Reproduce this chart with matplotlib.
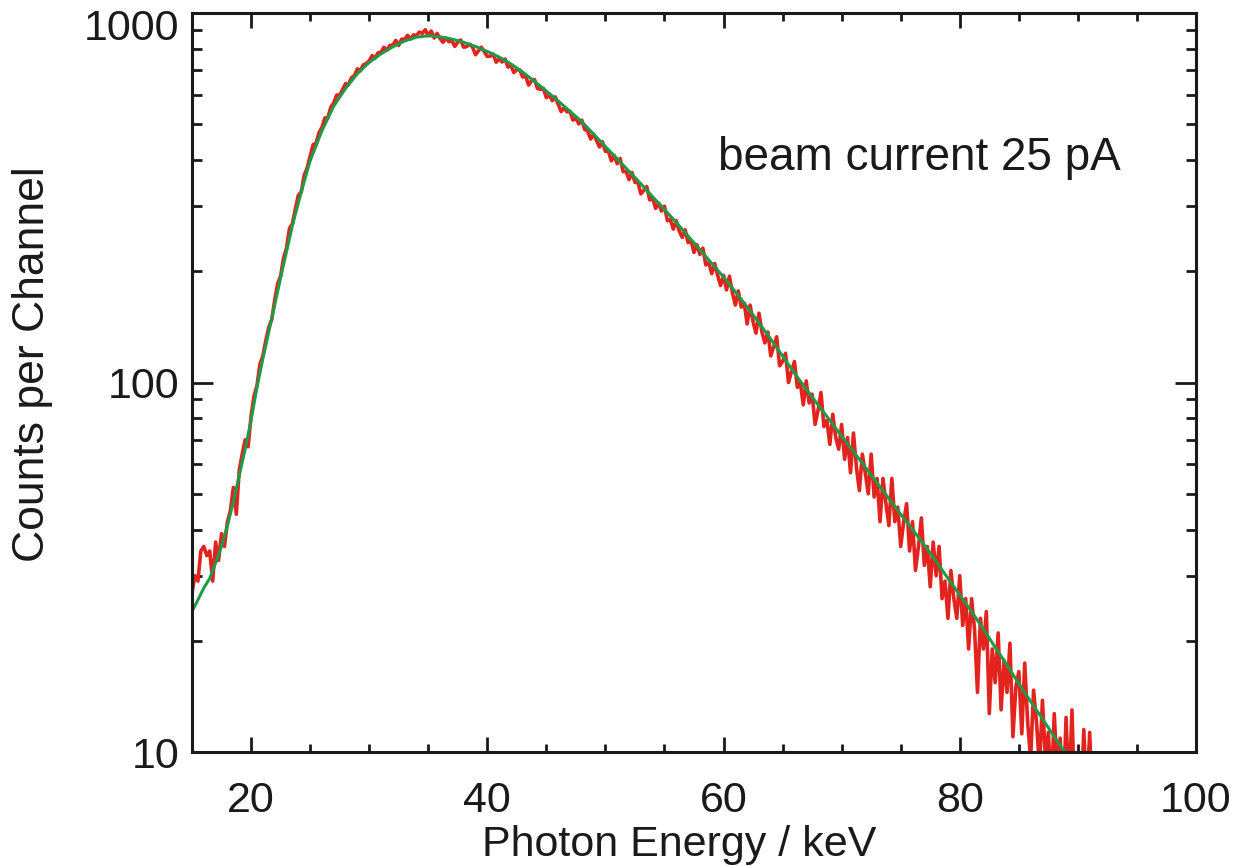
import numpy as np
import matplotlib
matplotlib.use("Agg")
import matplotlib.pyplot as plt
from matplotlib.ticker import FixedLocator, NullFormatter, FixedFormatter
from matplotlib.transforms import ScaledTranslation

plt.rcParams['font.family'] = ['Liberation Sans', 'DejaVu Sans']

# measured spectrum, one value per 0.25 keV channel starting at 15 keV
counts_start = 15.0
counts_step = 0.25
counts = [
    27, 30, 29, 35, 36, 34, 35, 29, 37, 33, 39, 36,                  # 15 - 17.75
    42, 45, 52, 44, 58, 64, 70, 67, 81, 92, 98, 112,                 # 18 - 20.75
    118, 130, 141, 148, 167, 185, 194, 217, 231, 261, 269, 295,      # 21 - 23.75
    321, 328, 364, 381, 410, 440, 444, 474, 490, 520, 520, 556,      # 24 - 26.75
    571, 600, 599, 621, 644, 640, 668, 677, 706, 698, 724, 730,      # 27 - 29.75
    742, 767, 755, 780, 783, 808, 793, 817, 818, 843, 817, 850,      # 30 - 32.75
    848, 870, 850, 872, 869, 888, 881, 901, 868, 894, 856, 881,      # 33 - 35.75
    853, 833, 856, 836, 842, 812, 834, 845, 808, 811, 823, 809,      # 36 - 38.75
    771, 790, 808, 785, 763, 764, 774, 736, 752, 737, 751, 714,      # 39 - 41.75
    721, 690, 703, 701, 671, 675, 638, 656, 660, 625, 621, 625,      # 42 - 44.75
    590, 600, 579, 593, 566, 541, 554, 540, 542, 513, 520, 501,      # 45 - 47.75
    513, 484, 479, 456, 470, 452, 434, 448, 422, 423, 398, 411,      # 48 - 50.75
    391, 404, 372, 373, 354, 370, 348, 348, 324, 331, 339, 312,      # 51 - 53.75
    315, 296, 306, 291, 300, 274, 276, 260, 274, 257, 247, 259,      # 54 - 56.75
    239, 242, 225, 236, 222, 231, 208, 211, 197, 210, 195, 183,      # 57 - 59.75
    195, 178, 194, 175, 162, 177, 160, 164, 144, 162, 146, 136,      # 60 - 62.75
    154, 137, 128, 137, 118, 125, 133, 111, 114, 120, 100, 107,      # 63 - 65.75
    114, 97, 100, 87, 101, 88, 93, 77, 84, 94, 76, 79,               # 66 - 68.75
    68, 82, 71, 66, 77, 62, 71, 57, 73, 59, 51, 64,                  # 69 - 71.75
    57, 50, 64, 49, 55, 42, 55, 47, 41, 55, 42, 46,                  # 72 - 74.75
    36, 42, 47, 35, 42, 31, 36, 43, 32, 36, 28, 37,                  # 75 - 77.75
    30, 36, 26, 29, 23, 31, 26, 23, 30, 22, 26, 19,                  # 78 - 80.75
    26, 21.5, 14.5, 23, 19, 24, 12.7, 19, 15.4, 21, 13, 17.7,        # 81 - 83.75
    14.5, 19.7, 11, 15, 16.5, 11.2, 17.4, 12, 9.6, 14.7, 12, 9.1,    # 84 - 86.75
    13.8, 9.6, 11.3, 7.9, 12.7, 8.8, 10.9, 7.1, 12.4, 7.7, 13, 6.8,  # 87 - 89.75
    9.8, 7, 11.5, 7.5, 11.3, 7,                                      # 90 - 91.25
]
energy = counts_start + counts_step * np.arange(len(counts))

# fitted model curve
fit_energy = [15, 15.5, 16, 16.5, 17, 17.5, 18, 18.5, 19, 19.5, 20, 20.5,
              21, 21.5, 22, 22.5, 23, 23.5, 24, 24.5, 25, 26, 27, 28, 29, 30,
              31, 32, 33, 34, 35, 36, 37, 38, 39, 40, 41, 42, 43, 44, 45, 46,
              47, 48, 49, 50, 51, 52, 53, 54, 55, 56, 57, 58, 59, 60, 61, 62,
              63, 64, 65, 66, 67, 68, 69, 70, 71, 72, 73, 74, 75, 76, 77, 78,
              79, 80, 81, 82, 83, 84, 85, 86, 87, 88, 89, 89.5]
fit_counts = [24, 25.8, 27.8, 29.5, 32.5, 36, 41, 47.5, 56, 66, 79, 97,
              116, 137, 162, 192, 226, 266, 306, 350, 398, 480, 560, 625, 685, 735,
              775, 810, 840, 860, 868, 862, 850, 833, 812, 787, 760, 728, 692, 653, 615, 578,
              542, 508, 470, 435, 403, 373, 345, 318, 294, 271, 249, 229, 210, 193, 176, 160,
              145, 131, 118, 106, 96, 87, 79, 71.5, 65, 59, 53.5, 48.5, 44, 40, 36.3, 32.8,
              29.5, 26.6, 24, 21.5, 19.2, 17.2, 15.3, 13.7, 12.3, 11, 9.9, 9.4]

x_major = [20, 40, 60, 80, 100]
y_major = [10, 100, 1000]
y_major_labels = ['10', '100', '1000']

fig = plt.figure(figsize=(12.35, 8.66), dpi=100)
ax = fig.add_axes([192 / 1235, 1 - 752 / 866, 1004 / 1235, 739 / 866])

ax.plot(energy, counts, color='#e2231e', lw=2.6)
ax.plot(fit_energy, fit_counts, color='#1f9a48', lw=2.2)

ax.set_yscale('log')
ax.set_xlim(15, 100)
ax.set_ylim(10, 1000)

ax.xaxis.set_major_locator(FixedLocator(x_major))
ax.xaxis.set_minor_locator(FixedLocator(np.arange(15, 100, 5)))
ax.yaxis.set_major_locator(FixedLocator(y_major))
ax.yaxis.set_major_formatter(FixedFormatter(y_major_labels))
ax.yaxis.set_minor_locator(FixedLocator([v * d for d in (10, 100) for v in range(2, 10)]))
ax.yaxis.set_minor_formatter(NullFormatter())

ax.tick_params(axis='both', which='both', direction='in', top=True, right=True,
               colors='#1a1a1a', labelcolor='#1a1a1a')
ax.tick_params(axis='x', which='major', length=11, width=2, labelsize=31, pad=21)
ax.tick_params(axis='x', which='minor', length=6, width=2)
ax.tick_params(axis='y', which='major', length=15, width=2, labelsize=31, pad=9)
ax.tick_params(axis='y', which='minor', length=7.5, width=2)
for s in ax.spines.values():
    s.set_linewidth(2.2)
    s.set_color('#1a1a1a')

# top label sits a little below its tick, as in the original
top_tick = ax.yaxis.get_major_ticks()[-1]
top_tick.label1.set_transform(top_tick.label1.get_transform()
                              + ScaledTranslation(0, -8 / 72, fig.dpi_scale_trans))

ax.text(0.524, 0.7876, 'beam current 25 pA', transform=ax.transAxes,
        fontsize=33, color='#1a1a1a', ha='left', va='baseline')

fig.text(679 / 1235, 1 - 845 / 866, 'Photon Energy / keV', fontsize=31,
         color='#1a1a1a', ha='center', va='center')
fig.text(33 / 1235, 1 - 364 / 866, 'Counts per Channel', fontsize=32,
         color='#1a1a1a', ha='center', va='center', rotation=90)

fig.savefig('out.png', dpi=100)
